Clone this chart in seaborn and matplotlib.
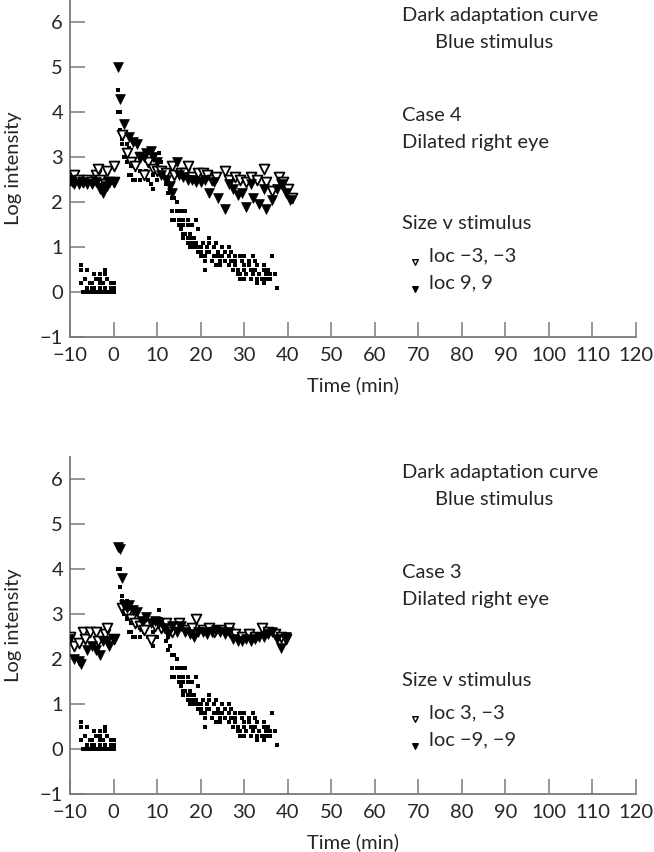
import matplotlib
matplotlib.use("Agg")
import matplotlib.pyplot as plt
import seaborn as sns

# normal (reference) thresholds, shown as small dots
normal_x = [-7, -6.5, -6, -5.5, -5, -4.5, -4, -3.5, -3, -2.5, -2, -1.5, -1, -0.5, 0,
            -6, -5, -4.5, -3, -2, -0.5, 0,
            -7.5, -5.5, -5, -3, -2.5, -0.5, 0,
            -6.5, -4, -3, -1.5,
            -4.5, -3, -2,
            -7.5, -6, -2,
            -7.5,
            1, 1, 1.5, 1.5, 2, 2, 3, 3.5, 2.5, 3, 4, 4, 3.5, 4.5, 5, 6, 6, 7, 7.5, 8, 8.5, 9, 9, 10,
            10.5, 11, 12, 12.5, 12, 12.5, 13, 13.5, 14, 14.5, 13.5, 14.5, 15, 16, 16.5,
            13.5, 14, 15, 16, 17, 19, 15, 16, 17, 18, 15.5, 16, 16.5, 17.5, 19.5,
            16, 17, 18, 18.5, 22, 17, 18, 19, 20.5, 22, 23.5,
            17.5, 18.5, 19.5, 20, 21.5, 23, 25, 26.5,
            19.5, 20, 21.5, 22, 24, 25.5, 27,
            20, 21, 23, 24, 25, 26.5, 28, 29, 30, 32, 36.5,
            21, 22.5, 24.5, 25.5, 27, 28, 29.5, 31, 32.5,
            23.5, 24.5, 26.5, 28, 30, 31, 33, 34.5,
            21, 27.5, 28.5, 30, 31.5, 32.5, 34.5, 35.5,
            28.5, 29, 30.5, 32, 33.5, 35, 36, 37,
            29, 30, 31.5, 33, 34, 35, 35.5, 36,
            33, 34.5, 37.5]
normal_y = [0, 0, 0, 0, 0, 0, 0, 0, 0, 0, 0, 0, 0, 0, 0,
            0.1, 0.1, 0.1, 0.1, 0.1, 0.1, 0.1,
            0.2, 0.2, 0.2, 0.2, 0.2, 0.2, 0.2,
            0.3, 0.3, 0.3, 0.3,
            0.4, 0.4, 0.4,
            0.5, 0.5, 0.5,
            0.6,
            4.5, 4.0, 4.0, 3.6, 3.4, 3.3, 3.3, 3.2, 3.0, 2.9, 2.8, 2.6, 2.6, 2.5, 2.5, 2.5, 2.7, 2.6, 2.7, 2.5, 2.4, 2.3, 2.6, 2.5,
            3.1, 2.9, 2.7, 2.5, 2.4, 2.2, 2.3, 2.1, 2.1, 2.0, 1.8, 1.8, 1.8, 1.8, 1.8,
            1.6, 1.6, 1.6, 1.6, 1.6, 1.6, 1.5, 1.5, 1.5, 1.5, 1.4, 1.3, 1.3, 1.3, 1.4,
            1.2, 1.2, 1.2, 1.2, 1.2, 1.1, 1.1, 1.1, 1.1, 1.1, 1.1,
            1.0, 1.0, 1.0, 1.0, 1.0, 1.0, 1.0, 1.0,
            0.9, 0.9, 0.9, 0.9, 0.9, 0.9, 0.9,
            0.8, 0.8, 0.8, 0.8, 0.8, 0.8, 0.8, 0.8, 0.8, 0.8, 0.8,
            0.7, 0.7, 0.7, 0.7, 0.7, 0.7, 0.7, 0.7, 0.7,
            0.6, 0.6, 0.6, 0.6, 0.6, 0.6, 0.6, 0.6,
            0.5, 0.5, 0.5, 0.5, 0.5, 0.5, 0.5, 0.5,
            0.4, 0.4, 0.4, 0.4, 0.4, 0.4, 0.4, 0.4,
            0.3, 0.3, 0.3, 0.3, 0.3, 0.3, 0.3, 0.3,
            0.2, 0.2, 0.1]

# case 4
c4_open_x = [-10, -9, -8, -7, -6, -5, -4, -3.5, -3, -2, -1.5, -1, 0, 0,
             2, 3, 4, 5, 6, 7, 8, 9, 10, 11, 12, 13.5, 14, 15.5, 16.5, 17, 18, 19.5, 20.5,
             21.5, 22.5, 23.5, 25.5, 26.5, 28, 29, 30.5, 31.5, 33, 34.5, 35, 36.5, 38, 39, 40, 41]
c4_open_y = [2.5, 2.6, 2.5, 2.45, 2.5, 2.45, 2.6, 2.75, 2.5, 2.4, 2.7, 2.45, 2.8, 2.45,
             3.5, 3.1, 2.9, 2.8, 3.0, 2.6, 2.9, 2.75, 2.7, 2.7, 2.65, 2.8, 2.6, 2.65, 2.65, 2.8, 2.55, 2.65, 2.65,
             2.6, 2.5, 2.55, 2.7, 2.5, 2.55, 2.5, 2.45, 2.55, 2.5, 2.75, 2.45, 2.25, 2.55, 2.45, 2.3, 2.1]
c4_fill_x = [-10, -9.5, -9, -8, -7, -6, -5, -4, -3, -2.5, -1.5, -1, 0,
             1, 1.5, 2.5, 3.5, 4.5, 5.5, 6, 7, 7.5, 8.5, 9, 10, 11, 12, 13, 13.5, 14.5, 15, 16, 17, 18,
             19, 20, 21, 22, 23, 24, 25.5, 26.5, 27.5, 28.5, 29.5, 30.5, 31.5, 32, 33.5, 34.5, 35,
             36.5, 37.5, 38.5, 39.5, 40.5]
c4_fill_y = [2.5, 2.45, 2.4, 2.4, 2.45, 2.4, 2.4, 2.45, 2.3, 2.2, 2.35, 2.45, 2.45,
             5.0, 4.3, 3.75, 3.45, 3.35, 3.3, 3.0, 3.0, 3.1, 3.15, 3.0, 2.9, 2.6, 2.5, 2.35, 2.2, 2.9, 2.6, 2.55, 2.5, 2.5,
             2.45, 2.45, 2.5, 2.2, 2.45, 2.1, 1.85, 2.4, 2.3, 2.15, 2.2, 1.9, 2.4, 2.1, 1.95, 2.3, 1.85,
             2.05, 2.3, 2.4, 2.2, 2.05]

# case 3
c3_open_x = [-10, -9, -8, -7, -6.5, -5.5, -4, -3.5, -2, -1.5, 0,
             2, 3, 4, 5, 6, 7, 8.5, 9.5, 11, 12, 13.5, 15, 16.5, 18, 19, 20.5, 22, 23, 24.5,
             26.5, 28, 29.5, 31, 32.5, 34, 35.5, 37, 38.5, 39.5]
c3_open_y = [2.5, 2.3, 2.35, 2.6, 2.45, 2.6, 2.6, 2.4, 2.55, 2.7, 2.45,
             3.15, 3.0, 2.9, 2.8, 2.75, 2.65, 2.42, 2.75, 2.7, 2.8, 2.6, 2.8, 2.65, 2.7, 2.9, 2.65, 2.7, 2.6, 2.65,
             2.7, 2.55, 2.5, 2.55, 2.5, 2.7, 2.6, 2.55, 2.5, 2.45]
c3_fill_x = [-10, -9, -8, -7.5, -6, -5, -4, -3, -2.5, -1.5, -1, 0,
             1, 1.5, 2, 2.5, 3, 3.5, 4.5, 5.5, 6.5, 7.5, 8.5, 9.5, 10.5, 11.5, 12.5, 13.5, 14.5,
             15.5, 16.5, 17.5, 18.5, 19.5, 20.5, 21.5, 22.5, 23.5, 24.5, 25.5, 26.5, 27.5, 28.5,
             29.5, 30.5, 31.5, 32.5, 33.5, 34.5, 35.5, 36.5, 37.5, 38.5, 39.5]
c3_fill_y = [2.45, 2.0, 1.95, 1.9, 2.2, 2.3, 2.2, 2.1, 2.4, 2.4, 2.3, 2.45,
             4.5, 4.45, 3.8, 3.2, 3.15, 3.2, 3.1, 3.05, 2.85, 2.95, 2.8, 2.85, 2.8, 2.7, 2.55, 2.75, 2.6,
             2.75, 2.6, 2.55, 2.5, 2.6, 2.6, 2.55, 2.6, 2.65, 2.6, 2.55, 2.6, 2.45, 2.4,
             2.4, 2.45, 2.4, 2.45, 2.5, 2.5, 2.55, 2.6, 2.45, 2.25, 2.5]

panels = [
    ("Case 4", c4_open_x, c4_open_y, c4_fill_x, c4_fill_y, "loc \u22123, \u22123", "loc 9, 9"),
    ("Case 3", c3_open_x, c3_open_y, c3_fill_x, c3_fill_y, "loc 3, \u22123", "loc \u22129, \u22129"),
]

sns.set_style("ticks")
plt.rcParams['font.family'] = ['Lato', 'DejaVu Sans']
plt.rcParams['font.size'] = 14.5

W, H = 654, 852
fig = plt.figure(figsize=(W / 100, H / 100), dpi=100)
axes = [fig.add_axes([70 / W, 1 - 337 / H, 566 / W, 337 / H]),
        fig.add_axes([70 / W, 1 - 794 / H, 566 / W, 337 / H])]

for ax, (case, ox, oy, fx, fy, lab_open, lab_fill) in zip(axes, panels):
    sns.scatterplot(x=normal_x, y=normal_y, ax=ax, marker='s', s=7, color='black',
                    linewidth=0, zorder=2)
    sns.scatterplot(x=ox, y=oy, ax=ax, marker='v', s=50, facecolor='white',
                    edgecolor='black', linewidth=1.3, zorder=3)
    sns.scatterplot(x=fx, y=fy, ax=ax, marker='v', s=50, color='black',
                    edgecolor='black', linewidth=0.5, zorder=4)

    ax.set_xlim(-10, 120)
    ax.set_ylim(-1, 6.5)
    ax.set_xticks(range(-10, 121, 10))
    ax.set_yticks(range(-1, 7))
    ax.set_xlabel("Time (min)", labelpad=9)
    ax.set_ylabel("Log intensity", labelpad=13)
    sns.despine(ax=ax)
    for s in ['left', 'bottom']:
        ax.spines[s].set_color('#7a7a7a')
        ax.spines[s].set_linewidth(1.3)
    ax.tick_params(direction='in', length=11, width=1.1, color='#7a7a7a', pad=5)
    ax.tick_params(axis='x', pad=7)

    ax.text(66.2, 6.15, "Dark adaptation curve", va='center')
    ax.text(73.8, 5.55, "Blue stimulus", va='center')
    ax.text(66.2, 3.92, case, va='center')
    ax.text(66.2, 3.32, "Dilated right eye", va='center')
    ax.text(66.2, 1.53, "Size v stimulus", va='center')
    ax.text(72.5, 0.8, lab_open, va='center')
    ax.text(72.5, 0.2, lab_fill, va='center')
    ax.scatter([69.2], [0.68], marker='v', s=16, facecolor='white', edgecolor='black',
               linewidth=1, clip_on=False)
    ax.scatter([69.2], [0.06], marker='v', s=16, color='black', clip_on=False)

fig.savefig("out.png", dpi=100)
